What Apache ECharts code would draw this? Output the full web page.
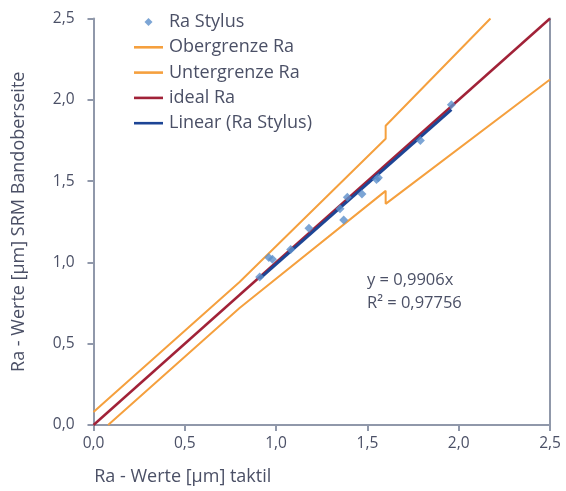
<!DOCTYPE html>
<html>
<head>
<meta charset="utf-8">
<script src="https://cdn.jsdelivr.net/npm/echarts@6/dist/echarts.min.js"></script>
<style>
html,body{margin:0;padding:0;background:#fff;}
#c{width:566px;height:491px;}
</style>
</head>
<body>
<div id="c"></div>
<script>
// ---- data ----
const stylusX = [0.91, 0.96, 0.98, 1.08, 1.18, 1.35, 1.37, 1.39, 1.47, 1.55, 1.56, 1.79, 1.96];
const stylusY = [0.91, 1.03, 1.02, 1.08, 1.21, 1.33, 1.26, 1.40, 1.42, 1.51, 1.52, 1.75, 1.97];
const upperX = [0, 0.8, 1.6, 1.6, 2.174];
const upperY = [0.08, 0.88, 1.76, 1.84, 2.5];
const lowerX = [0.08, 0.8, 1.6, 1.6, 2.5];
const lowerY = [0, 0.72, 1.44, 1.36, 2.125];
const idealX = [0, 2.5];
const idealY = [0, 2.5];
const trendX = [0.91, 1.96];
const trendY = [0.90, 1.94];
const xTickLabels = ['0,0', '0,5', '1,0', '1,5', '2,0', '2,5'];
const yTickLabels = ['0,0', '0,5', '1,0', '1,5', '2,0', '2,5'];
const seriesNames = ['Ra Stylus', 'Obergrenze Ra', 'Untergrenze Ra', 'ideal Ra', 'Linear (Ra Stylus)'];
const equationText = 'y = 0,9906x';
const r2Text = 'R² = 0,97756';
const xName = 'Ra - Werte [µm] taktil';
const yName = 'Ra - Werte [µm] SRM Bandoberseite';

const zip = (a, b) => a.map((v, i) => [v, b[i]]);
const FONT = 'Open Sans';
const TXT = '#4b5066';
const AX = '#9098aa';
const LINE_ICON = 'path://M0,0H29V2.6H0Z';
const DIAMOND_ICON = 'path://M4,0L8,4L4,8L0,4Z';

const chart = echarts.init(document.getElementById('c'), null, {renderer: 'canvas'});
const lineSeries = (name, xs, ys, color, width) => ({
  name, type: 'line', data: zip(xs, ys), symbol: 'none', showSymbol: false,
  lineStyle: {color, width}, itemStyle: {color}, animation: false, silent: true
});
chart.setOption({
  animation: false,
  grid: {left: 93.5, right: 16, top: 18.5, bottom: 64, containLabel: false},
  xAxis: {
    type: 'value', min: 0, max: 2.5, interval: 0.5,
    name: xName, nameLocation: 'middle', nameGap: 43,
    nameTextStyle: {fontFamily: FONT, fontSize: 18, color: TXT, padding: [0, 278, 0, 0]},
    axisLine: {show: true, onZero: false, lineStyle: {color: AX, width: 2}},
    axisTick: {show: true, length: 6, lineStyle: {color: AX, width: 2}},
    axisLabel: {margin: 11, fontFamily: FONT, fontSize: 15.5, color: TXT,
      formatter: v => xTickLabels[Math.round(v / 0.5)]},
    splitLine: {show: false}
  },
  yAxis: [{
    type: 'value', min: 0, max: 2.5, interval: 0.5,
    name: yName, nameLocation: 'middle', nameGap: 66,
    nameTextStyle: {fontFamily: FONT, fontSize: 18, color: TXT},
    axisLine: {show: true, onZero: false, lineStyle: {color: AX, width: 2}},
    axisTick: {show: true, length: 6, lineStyle: {color: AX, width: 2}},
    axisLabel: {margin: 19, fontFamily: FONT, fontSize: 15.5, color: TXT,
      formatter: v => yTickLabels[Math.round(v / 0.5)]},
    splitLine: {show: false}
  }, {
    type: 'value', min: 0, max: 2.5, interval: 0.5, position: 'right',
    axisLine: {show: true, onZero: false, lineStyle: {color: AX, width: 2}},
    axisTick: {show: false}, axisLabel: {show: false}, splitLine: {show: false}
  }],
  legend: {
    orient: 'vertical', left: 129, top: 8,
    itemWidth: 29, itemHeight: 8, itemGap: 7.3, symbolKeepAspect: true,
    textStyle: {fontFamily: FONT, fontSize: 18, color: TXT, lineHeight: 18, padding: [0, 0, 0, 1]},
    data: [
      {name: seriesNames[0], icon: DIAMOND_ICON},
      {name: seriesNames[1], icon: LINE_ICON},
      {name: seriesNames[2], icon: LINE_ICON},
      {name: seriesNames[3], icon: LINE_ICON},
      {name: seriesNames[4], icon: LINE_ICON}
    ]
  },
  graphic: [
    {type: 'text', left: 367, top: 272, style: {text: equationText, font: '16.5px "' + FONT + '"', fill: TXT}},
    {type: 'text', left: 367, top: 295, style: {text: r2Text, font: '16.5px "' + FONT + '"', fill: TXT}}
  ],
  series: [
    {name: seriesNames[0], type: 'scatter', data: zip(stylusX, stylusY), symbol: 'diamond',
     symbolSize: 9, itemStyle: {color: '#5b8fcb'}, z: 5},
    lineSeries(seriesNames[1], upperX, upperY, '#f5a03e', 2),
    lineSeries(seriesNames[2], lowerX, lowerY, '#f5a03e', 2),
    lineSeries(seriesNames[3], idealX, idealY, '#a12238', 2.5),
    lineSeries(seriesNames[4], trendX, trendY, '#1d4595', 3)
  ]
});
</script>
</body>
</html>
